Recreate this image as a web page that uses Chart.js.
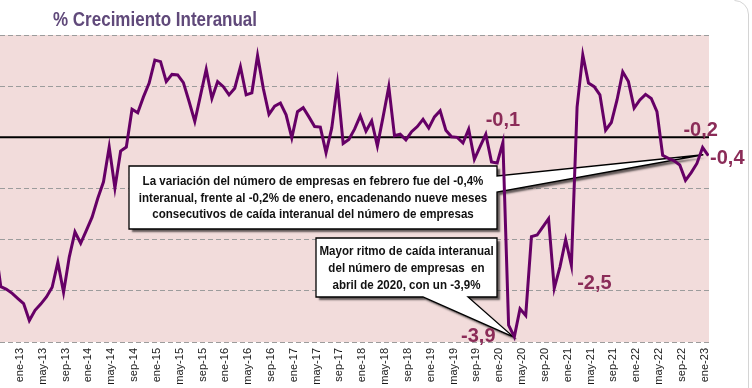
<!DOCTYPE html>
<html>
<head>
<meta charset="utf-8">
<script src="https://cdn.jsdelivr.net/npm/chart.js@4.4.0/dist/chart.umd.min.js"></script>
<style>
  html, body { margin: 0; padding: 0; background: #fff; }
  #wrap { position: relative; width: 752px; height: 388px; overflow: hidden; }
</style>
</head>
<body>
<div id="wrap"><canvas id="chart"></canvas></div>
<script>
// % crecimiento interanual del numero de empresas, mensual sep-12 .. feb-23
const values = [
  -2.10, -2.92, -2.97, -3.05,                                             // sep-12 .. dic-12
  -3.15, -3.25, -3.58, -3.38, -3.26, -3.12, -2.93, -2.44, -3.03, -2.34, -1.85, -2.07, // 2013
  -1.82, -1.56, -1.19, -0.87, -0.19, -0.99, -0.27, -0.19, 0.55, 0.48, 0.79, 1.06,     // 2014
  1.51, 1.48, 1.09, 1.23, 1.22, 1.07, 0.70, 0.31, 0.82, 1.33, 0.76, 1.09,             // 2015
  0.99, 0.83, 0.96, 1.38, 0.83, 0.87, 1.60, 0.96, 0.45, 0.61, 0.67, 0.44,             // 2016
  -0.01, 0.50, 0.58, 0.40, 0.21, 0.20, -0.30, 0.18, 1.04, -0.12, -0.04, 0.16,         // 2017
  0.42, 0.12, 0.32, -0.17, 0.40, 0.99, 0.03, 0.06, -0.05, 0.11, 0.21, 0.35,           // 2018
  0.18, 0.40, 0.52, 0.14, 0.01, 0.00, -0.11, 0.16, -0.43, -0.18, 0.06, -0.48,         // 2019
  -0.50, -0.10, -3.67, -3.90, -3.35, -3.48, -1.94, -1.91, -1.75, -1.59, -2.95, -2.53, // 2020
  -2.00, -2.50, 0.59, 1.61, 1.06, 0.99, 0.83, 0.14, 0.29, 0.73, 1.28, 1.09,           // 2021
  0.57, 0.73, 0.84, 0.76, 0.50, -0.35, -0.41, -0.46, -0.54, -0.84, -0.69, -0.51,      // 2022
  -0.20, -0.36                                                            // 2023
];

const tickLabels = [
  'ene-13', 'may-13', 'sep-13', 'ene-14', 'may-14', 'sep-14', 'ene-15', 'may-15',
  'sep-15', 'ene-16', 'may-16', 'sep-16', 'ene-17', 'may-17', 'sep-17', 'ene-18',
  'may-18', 'sep-18', 'ene-19', 'may-19', 'sep-19', 'ene-20', 'may-20', 'sep-20',
  'ene-21', 'may-21', 'sep-21', 'ene-22', 'may-22', 'sep-22', 'ene-23'
];
const firstTick = 4;   // index of ene-13 in values
const tickEvery = 4;   // months between labels

const yMin = -4;
const yMax = 2;

// labelled points: index in values + text
const highlights = [
  { idx: 89, text: '-0,1', dx: 0, dy: -23 },
  { idx: 124, text: '-0,2', dx: -2, dy: -19 },
  { idx: 125, text: '-0,4', dx: 19, dy: 1 },
  { idx: 101, text: '-2,5', dx: 23, dy: 17 },
  { idx: 91, text: '-3,9', dx: -36, dy: -2 }
];

const callouts = [
  {
    lines: [
      'La variación del número de empresas en febrero fue del -0,4%',
      'interanual, frente al -0,2% de enero, encadenando nueve meses',
      'consecutivos de caída interanual del número de empresas'
    ],
    box: [129, 166, 368, 63], textTop: 15.7, gap: 16.6,
    side: 'right', from: [176, 192], target: 125, tdx: -5, tdy: -1
  },
  {
    lines: [
      'Mayor ritmo de caída interanual',
      'del número de empresas  en',
      'abril de 2020, con un -3,9%'
    ],
    box: [316, 238, 181, 59], textTop: 13.7, gap: 17,
    side: 'bottom', from: [423, 468], target: 91, tdx: -1, tdy: 0
  }
];

const points = values.map((v, i) => ({ x: i, y: v }));

function drawCallout(ctx, c, tip) {
  const [x, y, w, h] = c.box;
  ctx.save();
  ctx.beginPath();
  ctx.moveTo(x, y);
  ctx.lineTo(x + w, y);
  if (c.side === 'right') {
    ctx.lineTo(x + w, c.from[0]);
    ctx.lineTo(tip.x, tip.y);
    ctx.lineTo(x + w, c.from[1]);
  }
  ctx.lineTo(x + w, y + h);
  if (c.side === 'bottom') {
    ctx.lineTo(c.from[1], y + h);
    ctx.lineTo(tip.x, tip.y);
    ctx.lineTo(c.from[0], y + h);
  }
  ctx.lineTo(x, y + h);
  ctx.closePath();
  ctx.shadowColor = 'rgba(0,0,0,0.6)';
  ctx.shadowOffsetX = 3;
  ctx.shadowOffsetY = 3;
  ctx.shadowBlur = 2;
  ctx.fillStyle = '#fff';
  ctx.fill();
  ctx.shadowColor = 'transparent';
  ctx.lineWidth = 1.3;
  ctx.strokeStyle = '#000';
  ctx.stroke();

  ctx.fillStyle = '#111';
  ctx.font = 'bold 13px "Liberation Sans", Arial, sans-serif';
  ctx.textAlign = 'center';
  ctx.textBaseline = 'middle';
  c.lines.forEach((t, k) => {
    ctx.save();
    ctx.translate(x + w / 2, y + c.textTop + k * c.gap);
    ctx.scale(0.89, 1);
    ctx.fillText(t, 0, 0);
    ctx.restore();
  });
  ctx.restore();
}

const decorPlugin = {
  id: 'decor',
  beforeDraw(chart) {
    const { ctx, chartArea: a } = chart;
    ctx.save();
    ctx.fillStyle = '#f2dcdb';
    ctx.fillRect(a.left, a.top, a.right - a.left, a.bottom - a.top);
    ctx.restore();
  },
  beforeDatasetsDraw(chart) {
    const { ctx, chartArea: a, scales } = chart;
    const y0 = scales.y.getPixelForValue(0);
    ctx.save();
    ctx.strokeStyle = '#000';
    ctx.lineWidth = 2;
    ctx.beginPath();
    ctx.moveTo(a.left, y0);
    ctx.lineTo(a.right, y0);
    ctx.stroke();
    ctx.restore();

    callouts.forEach(c => {
      const tip = {
        x: scales.x.getPixelForValue(c.target) + c.tdx,
        y: scales.y.getPixelForValue(values[c.target]) + c.tdy
      };
      drawCallout(ctx, c, tip);
    });
  },
  afterDatasetsDraw(chart) {
    const { ctx, scales } = chart;
    ctx.save();
    ctx.fillStyle = '#8b2c58';
    ctx.font = 'bold 20px "Liberation Sans", Arial, sans-serif';
    ctx.textAlign = 'center';
    ctx.textBaseline = 'alphabetic';
    highlights.forEach(h => {
      const px = scales.x.getPixelForValue(h.idx) + h.dx;
      const py = scales.y.getPixelForValue(values[h.idx]) + h.dy;
      ctx.fillText(h.text, px, py + 7);
    });
    ctx.restore();
  },
  afterDraw(chart) {
    const { ctx } = chart;
    ctx.save();
    // title
    ctx.fillStyle = '#60497a';
    ctx.font = 'bold 20px "Liberation Sans", Arial, sans-serif';
    ctx.textAlign = 'left';
    ctx.textBaseline = 'alphabetic';
    ctx.translate(53, 26);
    ctx.scale(0.85, 1);
    ctx.fillText('% Crecimiento Interanual', 0, 0);
    ctx.restore();

    // frame corner
    ctx.save();
    ctx.strokeStyle = '#d4d4d4';
    ctx.lineWidth = 1;
    ctx.beginPath();
    ctx.moveTo(748.5, 388);
    ctx.lineTo(748.5, 14);
    ctx.arcTo(748.5, 0.5, 734, 0.5, 14);
    ctx.stroke();
    ctx.restore();
  }
};

new Chart(document.getElementById('chart'), {
  type: 'line',
  data: {
    datasets: [{
      data: points,
      borderColor: '#660066',
      borderWidth: 3,
      pointRadius: 0,
      tension: 0,
      fill: false
    }]
  },
  options: {
    responsive: true,
    maintainAspectRatio: false,
    animation: false,
    events: [],
    layout: { padding: { left: 0, right: 43, top: 35, bottom: 0 } },
    plugins: { legend: { display: false }, tooltip: { enabled: false } },
    scales: {
      x: {
        type: 'linear',
        min: 0.86,
        max: 125.12,
        grid: { display: false, drawTicks: false },
        border: { display: false },
        afterBuildTicks: s => {
          s.ticks = tickLabels.map((_, k) => ({ value: firstTick + k * tickEvery }));
        },
        afterFit: s => { s.height = 46; },
        ticks: {
          autoSkip: false,
          minRotation: 90,
          maxRotation: 90,
          padding: 6,
          labelOffset: 2,
          color: '#1a1a1a',
          font: { family: '"Liberation Sans", Arial, sans-serif', size: 11 },
          callback: (v, i) => tickLabels[i]
        }
      },
      y: {
        min: yMin,
        max: yMax,
        afterFit: s => { s.width = 0; },
        grid: { color: '#9c9c9c', lineWidth: 1, drawTicks: false },
        border: { display: false, dash: [5, 3] },
        ticks: { display: false, stepSize: 1 }
      }
    }
  },
  plugins: [decorPlugin]
});
</script>
</body>
</html>
